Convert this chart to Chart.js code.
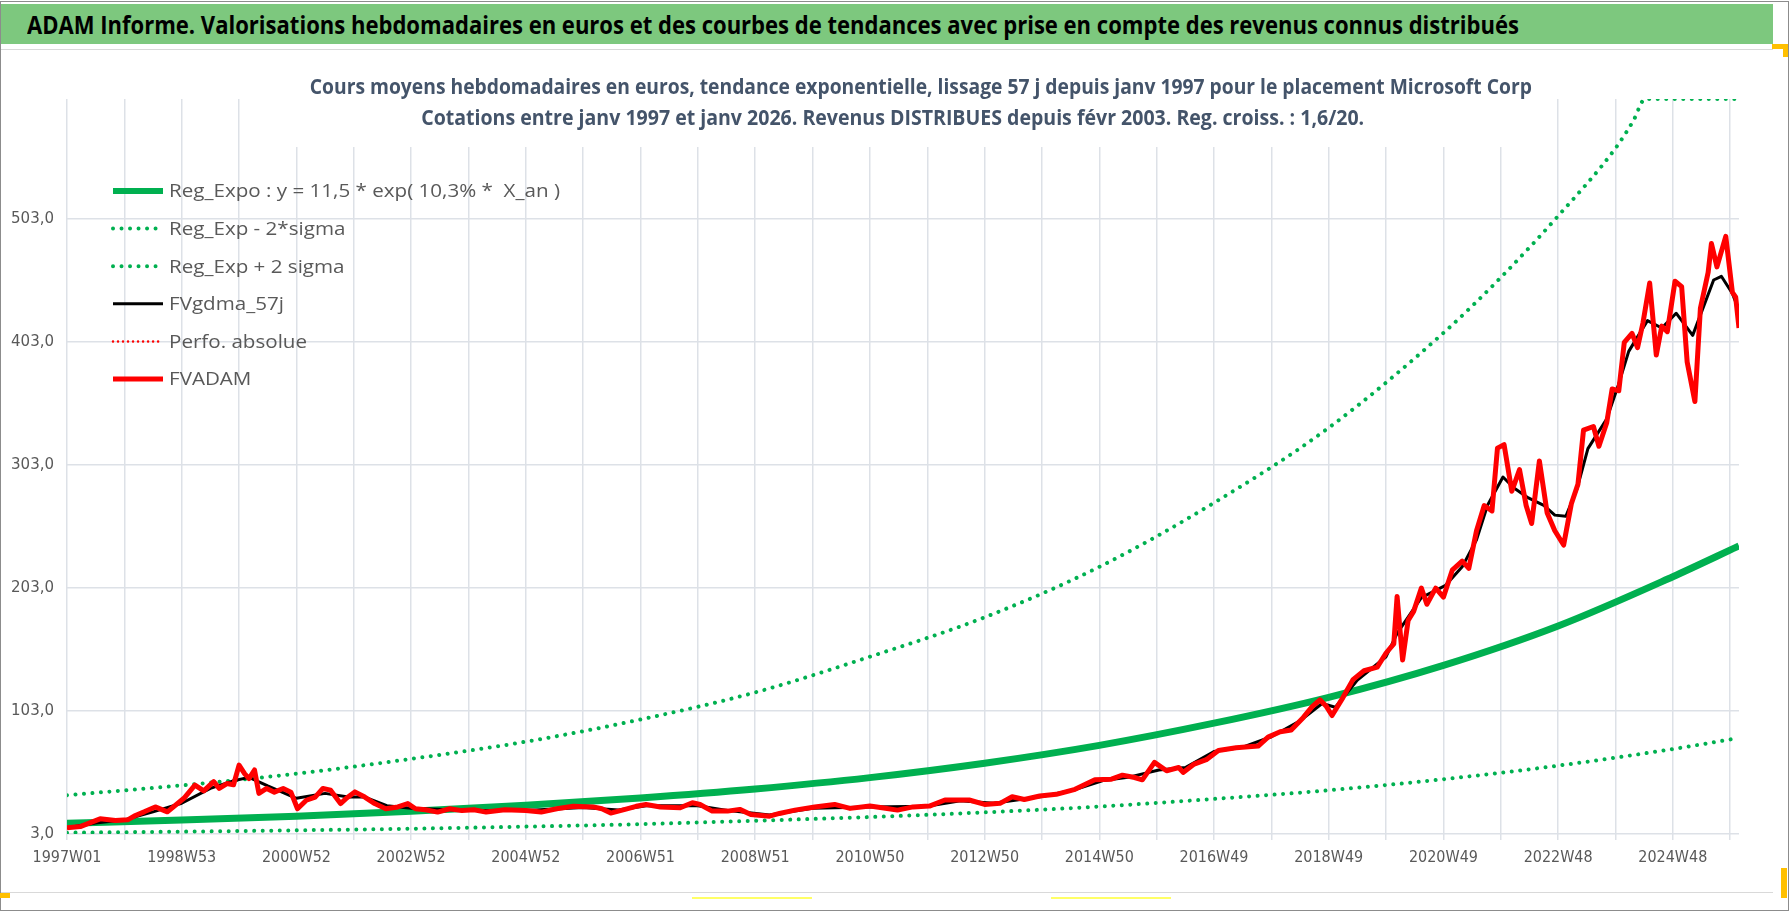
<!DOCTYPE html>
<html lang="fr">
<head>
<meta charset="utf-8">
<title>ADAM Informe - Microsoft Corp</title>
<script src="https://cdn.jsdelivr.net/npm/chart.js@4.4.1/dist/chart.umd.min.js"></script>
<style>
  html, body { margin: 0; padding: 0; background: #fff; }
  body { width: 1790px; height: 912px; position: relative; overflow: hidden; }
  #frame { position: absolute; left: 0; top: 1px; width: 1789px; height: 910px; box-sizing: border-box; border: 1px solid #8c8c8c; }
  #header { position: absolute; left: 1px; top: 4px; width: 1772px; height: 40px; background: #7dc87e; color: #000;
            white-space: nowrap; line-height: 40px; padding-left: 26px; box-sizing: border-box; }
  #header span { display: inline-block; font-weight: bold; transform-origin: 0 50%; }
  #title { position: absolute; left: 255px; top: 60px; width: 1275px; height: 87px; background: #fff;
           color: #44546a; text-align: center; white-space: nowrap; padding-top: 11px; box-sizing: border-box; }
  #title div { line-height: 31px; height: 31px; }
  #title span { display: inline-block; font-weight: bold; transform-origin: 50% 50%; }
  .sep { position: absolute; left: 1px; width: 1772px; height: 1px; background: #d9d9d9; }
  #wrap { position: absolute; left: 0; top: 50px; width: 1790px; height: 842px; }
  .mark { position: absolute; background: #ffc000; }
  .hl { position: absolute; background: #ffff66; height: 2px; }
</style>
</head>
<body>
<div id="frame"></div>
<div id="header"><span>ADAM Informe. Valorisations hebdomadaires en euros et des courbes de tendances avec prise en compte des revenus connus distribués</span></div>
<div class="sep" style="top:49px"></div>
<div class="sep" style="top:892px"></div>
<div id="wrap"><canvas id="chart"></canvas></div>
<div id="title">
  <div><span>Cours moyens hebdomadaires en euros, tendance exponentielle, lissage 57 j depuis janv 1997 pour le placement Microsoft Corp</span></div>
  <div><span>Cotations entre janv 1997 et janv 2026. Revenus DISTRIBUES depuis févr 2003. Reg. croiss. : 1,6/20.</span></div>
</div>
<div class="mark" style="left:0;top:893px;width:10px;height:5px"></div>
<div class="mark" style="left:1772px;top:44px;width:16px;height:5px"></div>
<div class="mark" style="left:1783px;top:44px;width:5px;height:13px"></div>
<div class="mark" style="left:1781px;top:868px;width:6px;height:30px"></div>
<div class="hl" style="left:692px;top:897px;width:120px"></div>
<div class="hl" style="left:1051px;top:897px;width:120px"></div>
<script>
// ===============================
// DATA (weeks since 1997W01, values in euros)
// ===============================
const xTickWeeks = [0, 52, 104, 156, 208, 260, 312, 364, 416, 468, 520, 572, 624, 676, 728,
  780, 832, 884, 936, 988, 1040, 1092, 1144, 1196, 1248, 1300, 1352, 1404, 1456, 1508];
const xTickLabels = ["1997W01", "1998W53", "2000W52", "2002W52", "2004W52", "2006W51", "2008W51",
  "2010W50", "2012W50", "2014W50", "2016W49", "2018W49", "2020W49", "2022W48", "2024W48"];
const yTickValues = [3, 103, 203, 303, 403, 503];

// trend curves
const trendWeeks = [0, 104, 208, 312, 416, 520, 624, 728, 832, 936, 1040, 1144, 1248, 1352, 1456, 1516];
const regExpo = [11.8, 14.3, 17.5, 21.5, 26.3, 32.3, 39.6, 48.8, 60.5, 75, 93, 114, 140, 172, 212, 237];
const regMinus = [4.1, 4.9, 6.0, 7.3, 9.0, 11.0, 13.8, 16.8, 20.6, 25.3, 31.5, 38.5, 47.5, 58.5, 72, 81];
const plusWeeks = [0, 104, 208, 312, 416, 520, 624, 728, 832, 936, 1040, 1144, 1248, 1300, 1352, 1404, 1420, 1431, 1516];
// flat at the top of the axis, as drawn in the reference
const regPlus = [34.5, 42.5, 52, 64, 78, 96, 118, 147, 179, 220, 272, 333, 410, 455, 505, 560, 582, 600, 600];

// FVADAM (weekly value)
const adamWeeks = [
  0, 12, 30, 44, 55, 62, 70, 80, 91, 106,
  116, 124, 133, 138, 145, 151, 156, 161, 165, 170,
  174, 181, 188, 196, 203, 209, 217, 225, 232, 239,
  248, 253, 261, 270, 279, 289, 300, 309, 316, 325,
  336, 347, 358, 369, 380, 397, 416, 430, 444, 459,
  477, 485, 493, 506, 516, 525, 538, 556, 567, 574,
  585, 599, 610, 620, 637, 646, 660, 678, 696, 710,
  728, 739, 753, 767, 782, 796, 818, 832, 846, 857,
  868, 882, 897, 914, 932, 947, 957, 968, 975, 986,
  997, 1008, 1012, 1022, 1033, 1044, 1060, 1080, 1089, 1100,
  1110, 1121, 1129, 1136, 1142, 1147, 1157, 1166, 1176, 1188,
  1196, 1203, 1206, 1211, 1216, 1221, 1228, 1233, 1241, 1248,
  1256, 1265, 1271, 1278, 1285, 1292, 1297, 1303, 1310, 1317,
  1323, 1328, 1335, 1342, 1349, 1357, 1364, 1370, 1375, 1384,
  1389, 1396, 1401, 1407, 1412, 1419, 1424, 1429, 1435, 1441,
  1446, 1451, 1458, 1464, 1469, 1476, 1481, 1488, 1491, 1496,
  1504, 1510, 1513, 1516];
const adamValues = [
  8, 9, 15.3, 14, 14.5, 18, 21, 25, 21, 32,
  42.7, 38, 45.5, 40, 44, 43, 59, 52, 48, 55,
  36, 40, 37, 40, 37, 23.5, 30.4, 33, 40, 38.6,
  27.7, 31.8, 37.2, 33, 27.7, 23.5, 25, 27.7, 23.5, 22.7,
  20.8, 23.5, 22, 22.7, 20.8, 22.7, 22, 20.8, 23.5, 25.5,
  25, 23.5, 20, 23, 25.5, 27, 25, 24.3, 28.4, 27,
  21.6, 21.6, 23, 18.8, 17.5, 19.7, 22.4, 25, 27, 23.8,
  25.7, 24.3, 22.4, 25, 25.7, 30.6, 30.6, 27, 27.9, 33.3,
  31, 33.9, 35.2, 39.3, 47, 47.5, 50.8, 48.9, 47, 61.2,
  54.4, 57, 53, 59.8, 63.4, 70.8, 73, 74.4, 81.7, 86,
  87.5, 97.7, 106.5, 112, 106.5, 99.2, 114, 128.4, 135.6, 138.6,
  150, 157.5, 196, 144.4, 176.5, 183.8, 202.7, 189.6, 202.7, 195.4,
  217.3, 224.6, 218.7, 249.3, 269.8, 265.4, 316.4, 319.3, 281.4, 299,
  269.8, 255.2, 306, 264, 249.3, 237.7, 271.2, 287.2, 331, 334,
  317.9, 336.8, 364.5, 363, 402.4, 409.7, 398, 418.5, 450.5, 392,
  415.5, 411, 452, 447.6, 386.4, 354.3, 430, 459, 482.6, 463.6,
  488.4, 443, 439, 414];

// FVgdma_57j (57 day smoothing)
const gdmaWeeks = [
  0, 26, 52, 78, 104, 130, 150, 165, 182, 208,
  234, 255, 270, 290, 312, 364, 416, 468, 500, 525,
  572, 600, 637, 676, 728, 780, 810, 840, 884, 914,
  940, 962, 990, 1014, 1040, 1066, 1092, 1118, 1138, 1150,
  1170, 1196, 1206, 1228, 1250, 1265, 1278, 1288, 1302, 1312,
  1325, 1339, 1349, 1359, 1369, 1379, 1396, 1406, 1416, 1433,
  1446, 1459, 1474, 1493, 1500, 1510, 1516];
const gdmaValues = [
  8, 12, 14.5, 21, 28, 40, 46, 49, 42, 32,
  36, 33, 33, 26, 24, 22, 22, 24.5, 22.5, 26,
  26, 22, 18.5, 24, 25, 25.5, 30, 28, 33.5, 39,
  46.5, 49, 55, 57, 70, 73.5, 82, 95, 109, 106,
  128, 147, 166, 195, 205, 220, 242, 270, 293, 284,
  276, 270, 262, 261, 283, 316, 340, 366, 395, 420,
  414, 426, 408, 453, 456, 442, 428];

// ===============================
// FONTS (Calibri look: humanist face squeezed to the reference width)
// ===============================
const BODY = "'Open Sans', 'Noto Sans', sans-serif";
const COND = "'DejaVu Sans Condensed', 'DejaVu Sans', sans-serif";
const measureCtx = document.createElement("canvas").getContext("2d");
function textWidth(text, font) {
  measureCtx.font = font;
  return measureCtx.measureText(text).width;
}
function fitSize(text, weight, family, target) {
  return 100 * target / textWidth(text, weight + " 100px " + family);
}
function squeeze(span, size, target) {
  span.style.fontFamily = BODY;
  span.style.fontSize = size + "px";
  const w = textWidth(span.textContent, "bold " + size + "px " + BODY);
  span.style.transform = "scaleX(" + (target / w).toFixed(4) + ")";
}

squeeze(document.querySelector("#header span"), 25, 1492);
const titleSpans = document.querySelectorAll("#title span");
squeeze(titleSpans[0], 21, 1222);
squeeze(titleSpans[1], 21, 943);

const LEGEND_SIZE = 19;
const LEGEND_FONT = LEGEND_SIZE + "px " + BODY;
const legendScale = 391 / textWidth("Reg_Expo : y = 11,5 * exp( 10,3% *  X_an )", LEGEND_FONT);
const xTickSize = fitSize("1997W01", "normal", COND, 69);
const yTickSize = fitSize("503,0", "normal", COND, 43);

const toPoints = (ws, vs) => ws.map((w, i) => ({ x: w, y: vs[i] }));

// ===============================
// LEGEND (list inside the plot, top-left)
// ===============================
const insideLegend = {
  id: "insideLegend",
  afterDraw(chart) {
    const ctx = chart.ctx;
    ctx.save();
    ctx.textBaseline = "middle";
    chart.data.datasets.forEach((ds, i) => {
      const y = 141 + i * 37.6;
      ctx.beginPath();
      ctx.strokeStyle = ds.borderColor;
      ctx.lineWidth = Math.min(ds.borderWidth, 6);
      ctx.setLineDash(ds.borderDash || []);
      ctx.lineCap = ds.borderDash ? "round" : "butt";
      ctx.moveTo(113, y);
      ctx.lineTo(163, y);
      ctx.stroke();
      ctx.save();
      ctx.translate(169, y + 1);
      ctx.scale(legendScale, 1);
      ctx.font = LEGEND_FONT;
      ctx.fillStyle = "#595959";
      ctx.fillText(ds.label, 0, 0);
      ctx.restore();
    });
    ctx.restore();
  }
};

// ===============================
// CHART
// ===============================
const GREEN = "#00b050";
const GRID = "#dde1e7";
const DOTS = [0.01, 8.5];

new Chart(document.getElementById("chart"), {
  type: "line",
  data: {
    datasets: [
      {
        label: "Reg_Expo : y = 11,5 * exp( 10,3% *  X_an )",
        data: toPoints(trendWeeks, regExpo),
        borderColor: GREEN, borderWidth: 7,
        cubicInterpolationMode: "monotone", order: 5
      },
      {
        label: "Reg_Exp - 2*sigma",
        data: toPoints(trendWeeks, regMinus),
        borderColor: GREEN, borderWidth: 4, borderDash: DOTS, borderCapStyle: "round",
        cubicInterpolationMode: "monotone", order: 4
      },
      {
        label: "Reg_Exp + 2 sigma",
        data: toPoints(plusWeeks, regPlus),
        borderColor: GREEN, borderWidth: 4, borderDash: DOTS, borderCapStyle: "round",
        cubicInterpolationMode: "monotone", order: 3
      },
      {
        label: "FVgdma_57j",
        data: toPoints(gdmaWeeks, gdmaValues),
        borderColor: "#000", borderWidth: 3, order: 1
      },
      {
        label: "Perfo. absolue",
        data: [],
        borderColor: "#ff0000", borderWidth: 2.5, borderDash: [0.01, 5], borderCapStyle: "round",
        order: 2
      },
      {
        label: "FVADAM",
        data: toPoints(adamWeeks, adamValues),
        borderColor: "#ff0000", borderWidth: 5, order: 0
      }
    ]
  },
  options: {
    responsive: true,
    maintainAspectRatio: false,
    animation: false,
    events: [],
    elements: {
      point: { radius: 0 },
      line: { borderJoinStyle: "round", tension: 0 }
    },
    layout: { padding: { left: 0, right: 51, top: 49, bottom: 0 } },
    plugins: {
      legend: { display: false },
      tooltip: { enabled: false },
      title: { display: false }
    },
    scales: {
      x: {
        type: "linear",
        min: 0,
        max: 1516,
        afterBuildTicks: s => { s.ticks = xTickWeeks.map(v => ({ value: v })); },
        afterFit: s => { s.height = 58; },
        ticks: {
          autoSkip: false,
          maxRotation: 0,
          padding: 8,
          color: "#595959",
          font: { family: COND, size: xTickSize },
          callback: v => (v % 104 === 0 ? xTickLabels[v / 104] : "")
        },
        grid: { color: GRID, lineWidth: 1.5, tickLength: 6 },
        border: { display: false }
      },
      y: {
        min: 3,
        max: 600,
        afterBuildTicks: s => { s.ticks = yTickValues.map(v => ({ value: v })); },
        afterFit: s => { s.width = 67; },
        ticks: {
          padding: 13,
          color: "#595959",
          font: { family: COND, size: yTickSize },
          callback: v => v.toFixed(1).replace(".", ",")
        },
        grid: { color: GRID, lineWidth: 1.5, drawTicks: false },
        border: { display: false }
      }
    }
  },
  plugins: [insideLegend]
});
</script>
</body>
</html>
